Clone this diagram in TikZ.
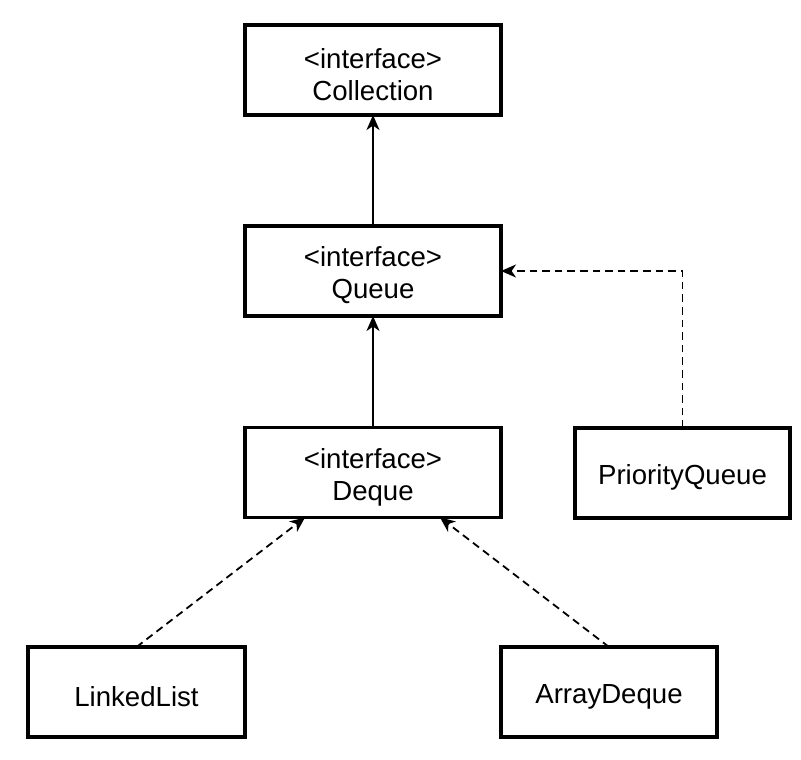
\documentclass[tikz,border=0pt]{standalone}
\usepackage{fontspec}
\setmainfont{Liberation Sans}
\usetikzlibrary{arrows.meta,calc}
\newcommand{\dn}[1]{\raisebox{-2.2pt}[\height][\depth]{#1}}
\begin{document}
\begin{tikzpicture}[x=0.5pt,y=-0.5pt,
  box/.style={draw=black,line width=1.8pt,fill=white,inner sep=0pt,outer sep=0pt,
    minimum height=45pt,align=center,font=\fontsize{13.8pt}{16pt}\selectfont},
  conn/.style={line width=0.9pt,-{Stealth[length=7.5pt,width=6.5pt,inset=2.2pt]}},
  dashconn/.style={conn,dash pattern=on 3.8pt off 2.5pt}]
\useasboundingbox (0,0) rectangle (801,759);
\node[box,minimum width=128pt] (coll) at (373,70) {\dn{<interface>}\\\dn{Collection}};
\node[box,minimum width=128pt] (queue) at (373,271) {\dn{<interface>}\\\dn{Queue}};
\node[box,minimum width=128pt] (deque) at (373,472.5) {\dn{<interface>}\\\dn{Deque}};
\node[box,minimum width=107.5pt] (pq) at (682.5,473) {\dn{PriorityQueue}};
\node[box,minimum width=108.5pt] (ll) at (136.5,692) {\dn{LinkedList}};
\node[box,minimum width=108pt] (ad) at (609,692) {\dn{ArrayDeque}};
\coordinate (dqL) at ([xshift=-34pt]deque.south);
\coordinate (dqR) at ([xshift=33.5pt]deque.south);
\draw[conn] (queue.north) -- (coll.south);
\draw[conn] (deque.north) -- (queue.south);
\draw[dashconn] (pq.north) |- (queue.east);
\draw[dashconn] (ll.north) -- (dqL);
\draw[dashconn] (ad.north) -- (dqR);
\end{tikzpicture}
\end{document}
